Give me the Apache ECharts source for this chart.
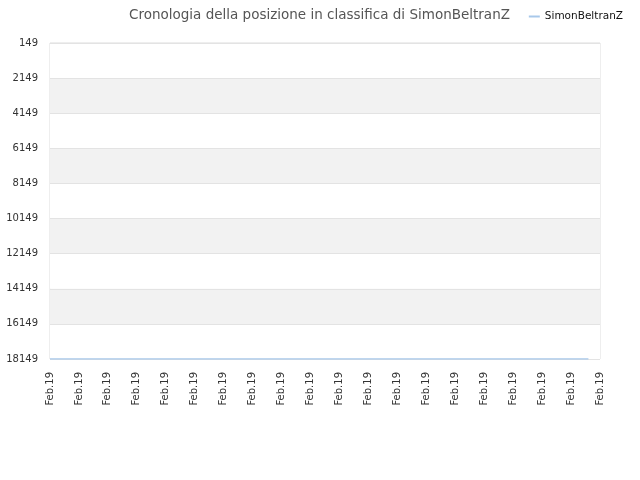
<!DOCTYPE html>
<html><head><meta charset="utf-8">
<script src="https://cdn.jsdelivr.net/npm/echarts@6/dist/echarts.min.js"></script>
<style>html,body{margin:0;padding:0;background:#fff}#c{width:640px;height:480px}</style>
</head><body><div id="c"></div>
<script>
var xLabels = ["Feb.19","Feb.19","Feb.19","Feb.19","Feb.19","Feb.19","Feb.19","Feb.19","Feb.19","Feb.19","Feb.19","Feb.19","Feb.19","Feb.19","Feb.19","Feb.19","Feb.19","Feb.19","Feb.19","Feb.19"];
var seriesX = [0, 18.6];
var seriesRank = [18149, 18149];
var yTicks = [149, 2149, 4149, 6149, 8149, 10149, 12149, 14149, 16149, 18149];
var seriesName = "SimonBeltranZ";

var chart = echarts.init(document.getElementById('c'));
chart.setOption({
  animation: false,
  title: {
    text: "Cronologia della posizione in classifica di SimonBeltranZ",
    left: 124, top: 3,
    textStyle: {fontFamily: 'DejaVu Sans', fontSize: 13.5, fontWeight: 'normal', color: '#555'}
  },
  legend: {
    right: 12, top: 6,
    itemWidth: 11, itemHeight: 2,
    icon: 'rect', itemGap: 10,
    textStyle: {fontFamily: 'DejaVu Sans', fontSize: 10.5, color: '#111'},
    data: [seriesName]
  },
  grid: {left: 50, right: 40, top: 43, bottom: 121, show: true, borderColor: '#ddd', borderWidth: 1, containLabel: false},
  xAxis: {
    type: 'value', min: 0, max: xLabels.length - 1, interval: 1,
    axisLine: {show: false}, axisTick: {show: false},
    splitLine: {show: false},
    axisLabel: {rotate: 90, fontFamily: 'DejaVu Sans', fontSize: 10, color: '#333', margin: 13,
      formatter: function(v){ return xLabels[Math.round(v)] || ''; }}
  },
  yAxis: {
    type: 'value', inverse: true, min: yTicks[0], max: yTicks[yTicks.length-1], interval: 2000,
    axisLine: {show: false}, axisTick: {show: false},
    splitLine: {lineStyle: {color: '#e3e3e3'}},
    splitArea: {show: true, areaStyle: {color: ['#ffffff', '#f2f2f2']}},
    axisLabel: {fontFamily: 'DejaVu Sans', fontSize: 10, color: '#333', margin: 12,
      formatter: function(v){ return String(v); }}
  },
  series: [{
    name: seriesName, type: 'line', symbol: 'none',
    lineStyle: {color: '#a8c8ea', width: 1.5}, itemStyle: {color: '#a8c8ea'},
    data: seriesX.map(function(x, i){ return [x, seriesRank[i]]; })
  }]
});
</script></body></html>
